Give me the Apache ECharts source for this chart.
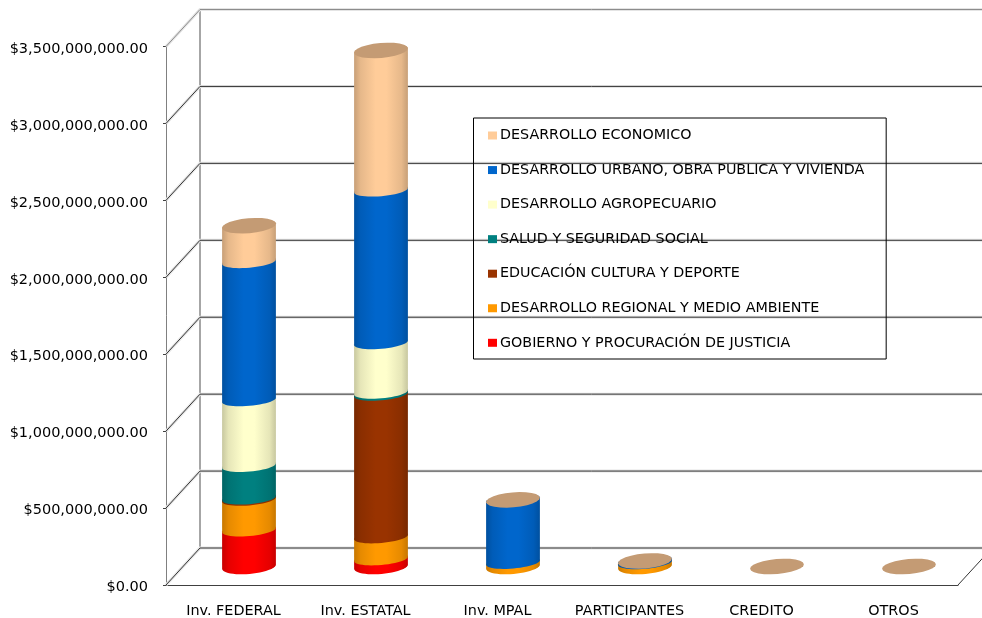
<!DOCTYPE html>
<html>
<head>
<meta charset="utf-8">
<title>Inversion por fuente</title>
<script src="https://cdn.jsdelivr.net/npm/echarts@6/dist/echarts.min.js"></script>
<style>
html, body { margin: 0; padding: 0; background: #fff; }
#chart { width: 982px; height: 618px; }
</style>
</head>
<body>
<div id="chart"></div>
<script>
var categories = ['Inv. FEDERAL', 'Inv. ESTATAL', 'Inv. MPAL', 'PARTICIPANTES', 'CREDITO', 'OTROS'];

// values, same order as categories
var gobierno = [237000000, 49000000, 0, 0, 0, 0];
var regional = [199000000, 143000000, 26000000, 24000000, 0, 0];
var educacion = [8000000, 927000000, 0, 0, 0, 0];
var salud = [212000000, 13000000, 0, 0, 0, 0];
var agropecuario = [427000000, 322000000, 0, 0, 0, 0];
var urbano = [898000000, 992000000, 407000000, 12000000, 0, 0];
var economico = [234000000, 908000000, 0, 0, 0, 0];

var yTicks = [0, 500000000, 1000000000, 1500000000, 2000000000, 2500000000, 3000000000, 3500000000];

var names = [
    'GOBIERNO Y PROCURACIÓN DE JUSTICIA',
    'DESARROLLO REGIONAL Y MEDIO AMBIENTE',
    'EDUCACIÓN CULTURA Y DEPORTE',
    'SALUD Y SEGURIDAD SOCIAL',
    'DESARROLLO AGROPECUARIO',
    'DESARROLLO URBANO, OBRA PUBLICA Y VIVIENDA',
    'DESARROLLO ECONOMICO'
];
var values = [gobierno, regional, educacion, salud, agropecuario, urbano, economico];
var colors = ['#ff0000', '#ff9900', '#993300', '#008080', '#ffffcc', '#0066cc', '#ffcc99'];
var capColor = '#c49b74';

var font = 'DejaVu Sans';
var depthX = 34, depthY = 37;
var barRatio = 54 / 132, tilt = -5 * Math.PI / 180;

var myChart = echarts.init(document.getElementById('chart'));

function shade(hex, k) {
    var n = parseInt(hex.slice(1), 16);
    var r = Math.round((n >> 16 & 255) * k);
    var g = Math.round((n >> 8 & 255) * k);
    var b = Math.round((n & 255) * k);
    return 'rgb(' + r + ',' + g + ',' + b + ')';
}

// points on a tilted ellipse, angle from t0 to t1
function arc(c, rx, ry, t0, t1) {
    var pts = [];
    for (var i = 0; i <= 24; i++) {
        var t = t0 + (t1 - t0) * i / 24;
        pts.push([
            c[0] + rx * Math.cos(t) * Math.cos(tilt) - ry * Math.sin(t) * Math.sin(tilt),
            c[1] + rx * Math.cos(t) * Math.sin(tilt) + ry * Math.sin(t) * Math.cos(tilt)
        ]);
    }
    return pts;
}

function centerOf(api, idx, val) {
    var p = api.coord([idx, val]);
    return [p[0] + depthX / 2, p[1] - depthY / 2];
}

function renderWall(params, api) {
    var v = api.value(0);
    var band = api.size([1, 0])[0];
    var p = api.coord([0, v]);
    var left = p[0] - band / 2;
    var right = left + band * categories.length;
    var isTop = v === yTicks[yTicks.length - 1];
    var line = { stroke: isTop ? '#8c8c8c' : '#333', lineWidth: 1, fill: null };
    var glow = { stroke: '#e4e4e4', lineWidth: 3, fill: null };
    var pts = [[left, p[1]], [left + depthX, p[1] - depthY], [right + depthX, p[1] - depthY]];
    var kids = [
        { type: 'polyline', shape: { points: pts }, style: glow },
        { type: 'polyline', shape: { points: pts }, style: line }
    ];
    if (v === 0) {
        var top = api.coord([0, yTicks[yTicks.length - 1]]);
        kids.unshift({
            type: 'line',
            shape: { x1: left + depthX, y1: p[1] - depthY, x2: left + depthX, y2: top[1] - depthY },
            style: { stroke: '#a6a6a6', lineWidth: 2 }
        });
        kids.push({
            type: 'line',
            shape: { x1: right, y1: p[1], x2: right + depthX, y2: p[1] - depthY },
            style: line
        });
    }
    return { type: 'group', children: kids };
}

function renderSegment(color) {
    return function (params, api) {
        var idx = api.value(0);
        var from = api.value(1), to = api.value(2);
        if (to <= from) {
            return null;
        }
        var rx = api.size([1, 0])[0] * barRatio / 2;
        var low = centerOf(api, idx, from);
        var high = centerOf(api, idx, to);
        var pts = arc(low, rx, from === 0 ? 7.5 : 6, 0, Math.PI).concat(arc(high, rx, 6, Math.PI, 2 * Math.PI));
        return {
            type: 'polygon',
            shape: { points: pts },
            style: {
                fill: new echarts.graphic.LinearGradient(0, 0, 1, 0, [
                    { offset: 0, color: shade(color, 0.78) },
                    { offset: 0.12, color: shade(color, 0.9) },
                    { offset: 0.4, color: color },
                    { offset: 0.6, color: color },
                    { offset: 0.88, color: shade(color, 0.9) },
                    { offset: 1, color: shade(color, 0.78) }
                ])
            }
        };
    };
}

function renderCap(params, api) {
    var rx = api.size([1, 0])[0] * barRatio / 2;
    var c = centerOf(api, api.value(0), api.value(1));
    return {
        type: 'polygon',
        shape: { points: arc(c, rx, 7.5, 0, 2 * Math.PI) },
        style: { fill: capColor }
    };
}

var totals = categories.map(function () { return 0; });
var series = [{
    type: 'custom',
    name: 'walls',
    silent: true,
    clip: false,
    z: 1,
    renderItem: renderWall,
    encode: { y: 0 },
    data: yTicks.map(function (v) { return [v]; })
}];

names.forEach(function (name, s) {
    var data = categories.map(function (c, i) {
        var from = totals[i];
        totals[i] += values[s][i];
        return [i, from, totals[i]];
    });
    series.push({
        type: 'custom',
        name: name,
        clip: false,
        z: 2,
        itemStyle: { color: colors[s] },
        renderItem: renderSegment(colors[s]),
        encode: { x: 0, y: [1, 2] },
        data: data
    });
});

series.push({
    type: 'custom',
    name: 'tapa',
    clip: false,
    z: 2,
    renderItem: renderCap,
    encode: { x: 0, y: 1 },
    data: totals.map(function (t, i) { return [i, t]; })
});

var option = {
    animation: false,
    backgroundColor: '#fff',
    grid: { left: 166, right: 24, top: 46.5, bottom: 33 },
    legend: {
        orient: 'vertical',
        left: 473.5,
        top: 118,
        padding: [10.5, 22, 9.2, 14.5],
        itemWidth: 9,
        itemHeight: 8,
        itemGap: 20.55,
        icon: 'rect',
        selectedMode: false,
        borderColor: '#000',
        borderWidth: 1,
        borderRadius: 0,
        backgroundColor: 'transparent',
        z: 10,
        textStyle: { fontFamily: font, fontSize: 14.3, color: '#000', padding: [0, 0, 0, -2] },
        data: names.slice().reverse()
    },
    tooltip: { show: false },
    xAxis: {
        type: 'category',
        data: categories,
        axisLine: { lineStyle: { color: '#404040', width: 1 } },
        axisTick: { length: 4, lineStyle: { color: '#404040' } },
        axisLabel: { interval: 0, fontFamily: font, fontSize: 14.4, color: '#000', margin: 19, padding: [0, 0, 0, 3] }
    },
    yAxis: {
        type: 'value',
        min: 0,
        max: 3500000000,
        interval: 500000000,
        splitLine: { show: false },
        axisLine: { show: true, lineStyle: { color: '#808080', width: 1 } },
        axisTick: { show: true, length: 3, lineStyle: { color: '#404040' } },
        axisLabel: {
            fontFamily: font,
            fontSize: 14.5,
            color: '#000',
            margin: 18,
            verticalAlign: 'top',
            padding: [-5, 0, 0, 0],
            formatter: function (v) {
                return '$' + v.toLocaleString('en-US') + '.00';
            }
        }
    },
    series: series
};

myChart.setOption(option);
</script>
</body>
</html>
